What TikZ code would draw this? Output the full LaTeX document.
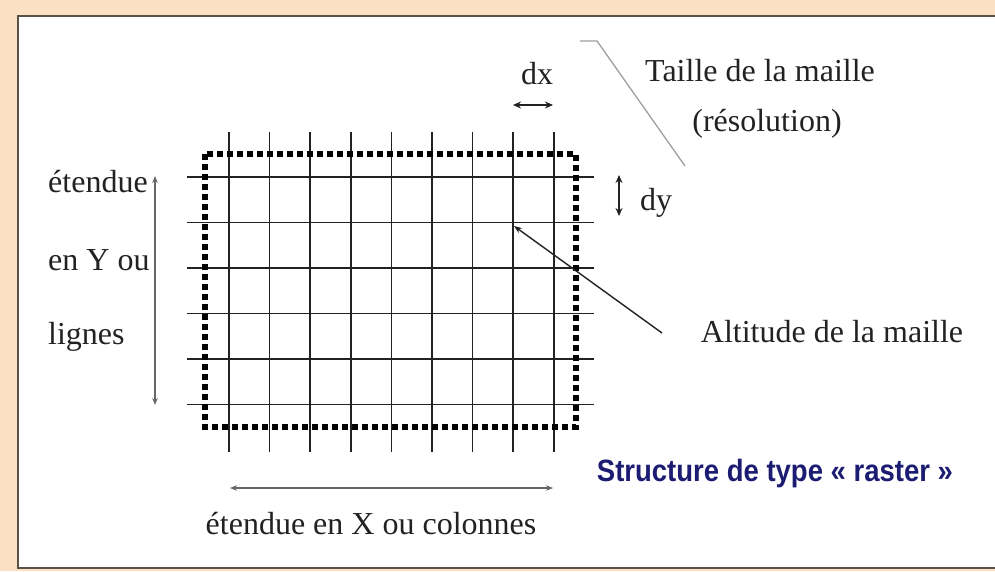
\documentclass[tikz,border=0pt]{standalone}
\usepackage{fontspec}
\setmainfont{Liberation Serif}
\newfontfamily\titlefont{Liberation Sans}
\usetikzlibrary{arrows.meta}
\definecolor{peach}{HTML}{FCE0C4}
\definecolor{frame}{HTML}{5A5248}
\definecolor{navy}{HTML}{1C1C72}
\definecolor{ink}{HTML}{222222}
\tikzset{
  gridline/.style={line width=1.7pt, draw=ink},
  dotframe/.style={line width=5.5pt, dash pattern=on 6pt off 4pt, draw=black},
  dimarrow/.style={line width=1.3pt, draw=ink, {Stealth[length=8pt,width=7pt]}-{Stealth[length=8pt,width=7pt]}},
  grayarrow/.style={line width=1.3pt, draw=gray!80!black, {Stealth[length=7pt,width=5.5pt]}-{Stealth[length=7pt,width=5.5pt]}},
  lbl/.style={font=\fontsize{32}{38}\selectfont, text=ink, inner sep=0pt},
  lleft/.style={lbl, anchor=west},
}
\begin{document}
\begin{tikzpicture}[x={(1pt,0)}, y={(0,-1pt)}]
\useasboundingbox (0,0) rectangle (995,571);
\fill[peach] (0,0) rectangle (995,571);
\fill[white] (18,16) rectangle (995,568);
\draw[frame, line width=2pt] (995,16) -- (18,16) -- (18,568) -- (995,568);

% grid
\foreach \i in {0,...,8} {
  \draw[gridline] ({229+40.6*\i},132) -- ({229+40.6*\i},452);
}
\foreach \j in {0,...,5} {
  \draw[gridline] (187,{177+45.5*\j}) -- (594,{177+45.5*\j});
}
\draw[dotframe] (205,154) rectangle (576,427);

% dx
\coordinate (dxa) at (513,105);
\coordinate (dxb) at (553,105);
\draw[dimarrow] (dxa) -- (dxb);
\node[lbl] (dx) at (537,74) {dx};

% dy
\coordinate (dya) at (619,175);
\coordinate (dyb) at (619,216);
\draw[dimarrow] (dya) -- (dyb);
\node[lbl] (dy) at (656,203) {dy};

% taille
\node[lbl] (taille) at (760,71) {Taille de la maille};
\node[lbl] (resol) at (767,124) {(résolution)};
\coordinate (tl0) at (580,41);
\coordinate (tl1) at (597,41);
\coordinate (tl2) at (685,166);
\draw[gray!75, line width=1.3pt] (tl0) -- (tl1) -- (tl2);

% altitude
\node[lbl] (alt) at (832,332) {Altitude de la maille};
\coordinate (altfrom) at (662,333);
\coordinate (altto) at (514,226);
\draw[line width=1.4pt, draw=ink, -{Stealth[length=8pt,width=6pt]}] (altfrom) -- (altto);

% Y extent
\node[lleft] (ey1) at (48,182) {étendue};
\node[lleft] (ey2) at (48,260) {en Y ou};
\node[lleft] (ey3) at (48,337) {lignes};
\coordinate (ya) at (155,176);
\coordinate (yb) at (155,405);
\draw[grayarrow] (ya) -- (yb);

% X extent
\coordinate (xa) at (230,488);
\coordinate (xb) at (553,488);
\draw[grayarrow] (xa) -- (xb);
\node[lbl] (ex) at (371,524) {étendue en X ou colonnes};

% title
\node[font=\titlefont\bfseries\fontsize{27.5}{32}\selectfont, text=navy, inner sep=0pt, yscale=1.12] (title) at (775,474) {Structure de type « raster »};
\end{tikzpicture}
\end{document}
